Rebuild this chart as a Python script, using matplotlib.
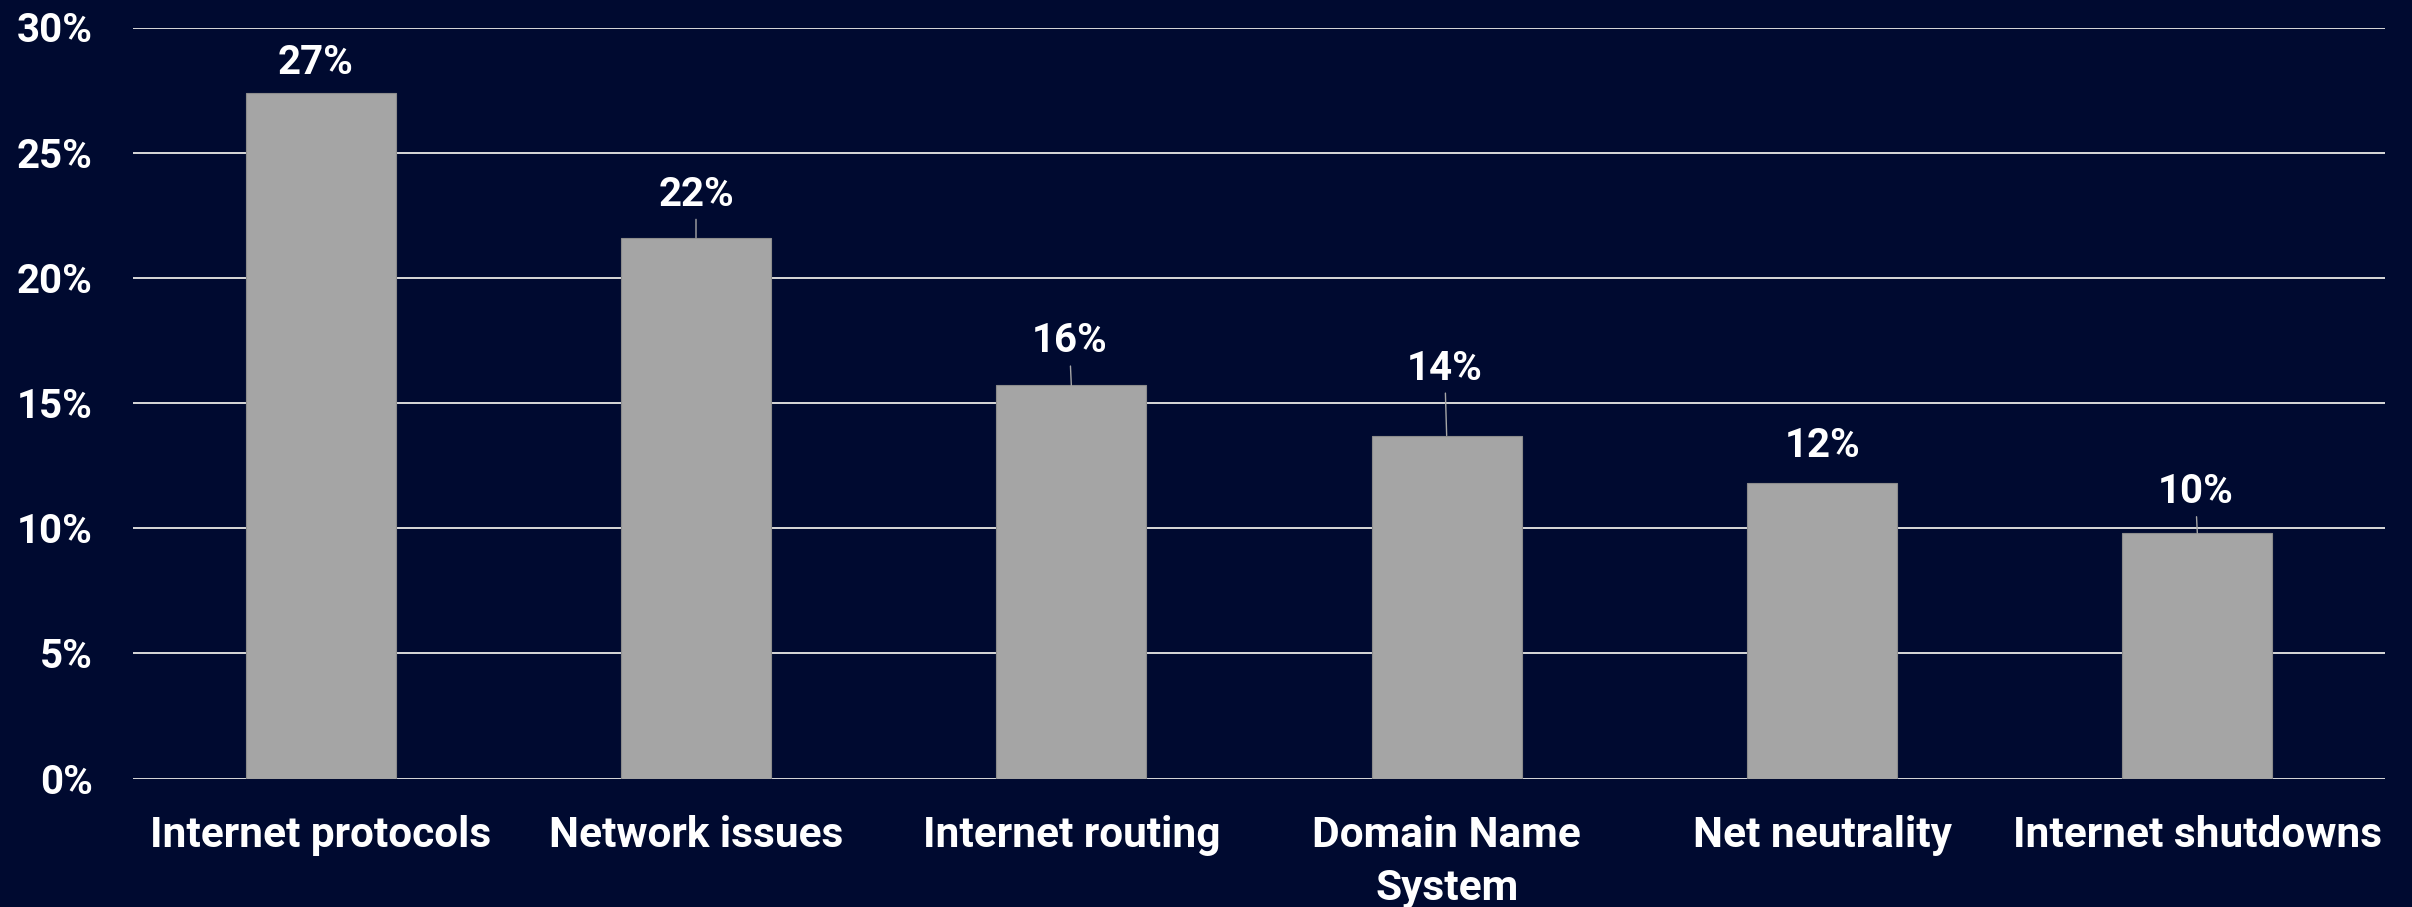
import matplotlib
matplotlib.use("Agg")
import matplotlib.pyplot as plt
from matplotlib.ticker import FuncFormatter, MultipleLocator

# ---- data ----
categories = ["Internet protocols", "Network issues", "Internet routing",
              "Domain Name\nSystem", "Net neutrality", "Internet shutdowns"]
values = [27.4, 21.6, 15.7, 13.7, 11.8, 9.8]
value_labels = ["27%", "22%", "16%", "14%", "12%", "10%"]

# label placement (pixels offset from bar top) and whether a leader line is drawn
label_dx = [-5, 0, -2, -2, 1, -2]
label_dy = [30, 43, 44, 67, 37, 41]
leader = [False, True, True, True, False, True]

BG = "#000A30"
BAR = "#A5A5A5"
GRID = "#D9D9D9"
FONT = ["Roboto", "DejaVu Sans"]

plt.rcParams["font.family"] = FONT
plt.rcParams["font.weight"] = "bold"

fig = plt.figure(figsize=(24.12, 9.07), dpi=100, facecolor=BG)
ax = fig.add_axes([133 / 2412, 1 - 778.5 / 907, 2252 / 2412, (778.5 - 27.5) / 907])
ax.set_facecolor(BG)

x = list(range(len(categories)))
ax.bar(x, values, width=0.4, color=BAR, edgecolor="#8C8C8C", linewidth=0.8, zorder=3)

ax.set_xlim(-0.5, len(categories) - 0.5)
ax.set_ylim(0, 30)
ax.yaxis.set_major_locator(MultipleLocator(5))
ax.yaxis.set_major_formatter(FuncFormatter(lambda v, p: f"{v:.0f}%"))
ax.grid(axis="y", color=GRID, linewidth=1.4, zorder=0)
ax.set_axisbelow(True)
for s in ax.spines.values():
    s.set_visible(False)

ax.set_xticks(x)
ax.set_xticklabels(categories, fontsize=30.5, fontweight="bold", color="white",
                   linespacing=1.38)
ax.tick_params(axis="x", length=0, pad=26)
ax.tick_params(axis="y", length=0, pad=29, labelsize=29, labelcolor="white")
for t in ax.get_yticklabels():
    t.set_fontweight("bold")

for i, (v, lab) in enumerate(zip(values, value_labels)):
    arrow = dict(arrowstyle="-", color="#A6A6A6", linewidth=1.0,
                 shrinkA=2, shrinkB=0) if leader[i] else None
    ax.annotate(lab, xy=(i, v), xytext=(label_dx[i], label_dy[i]),
                textcoords="offset pixels", ha="center", va="center",
                fontsize=29, fontweight="bold", color="white",
                arrowprops=arrow, zorder=5, annotation_clip=False)

fig.savefig("out.png", dpi=100, facecolor=BG)
